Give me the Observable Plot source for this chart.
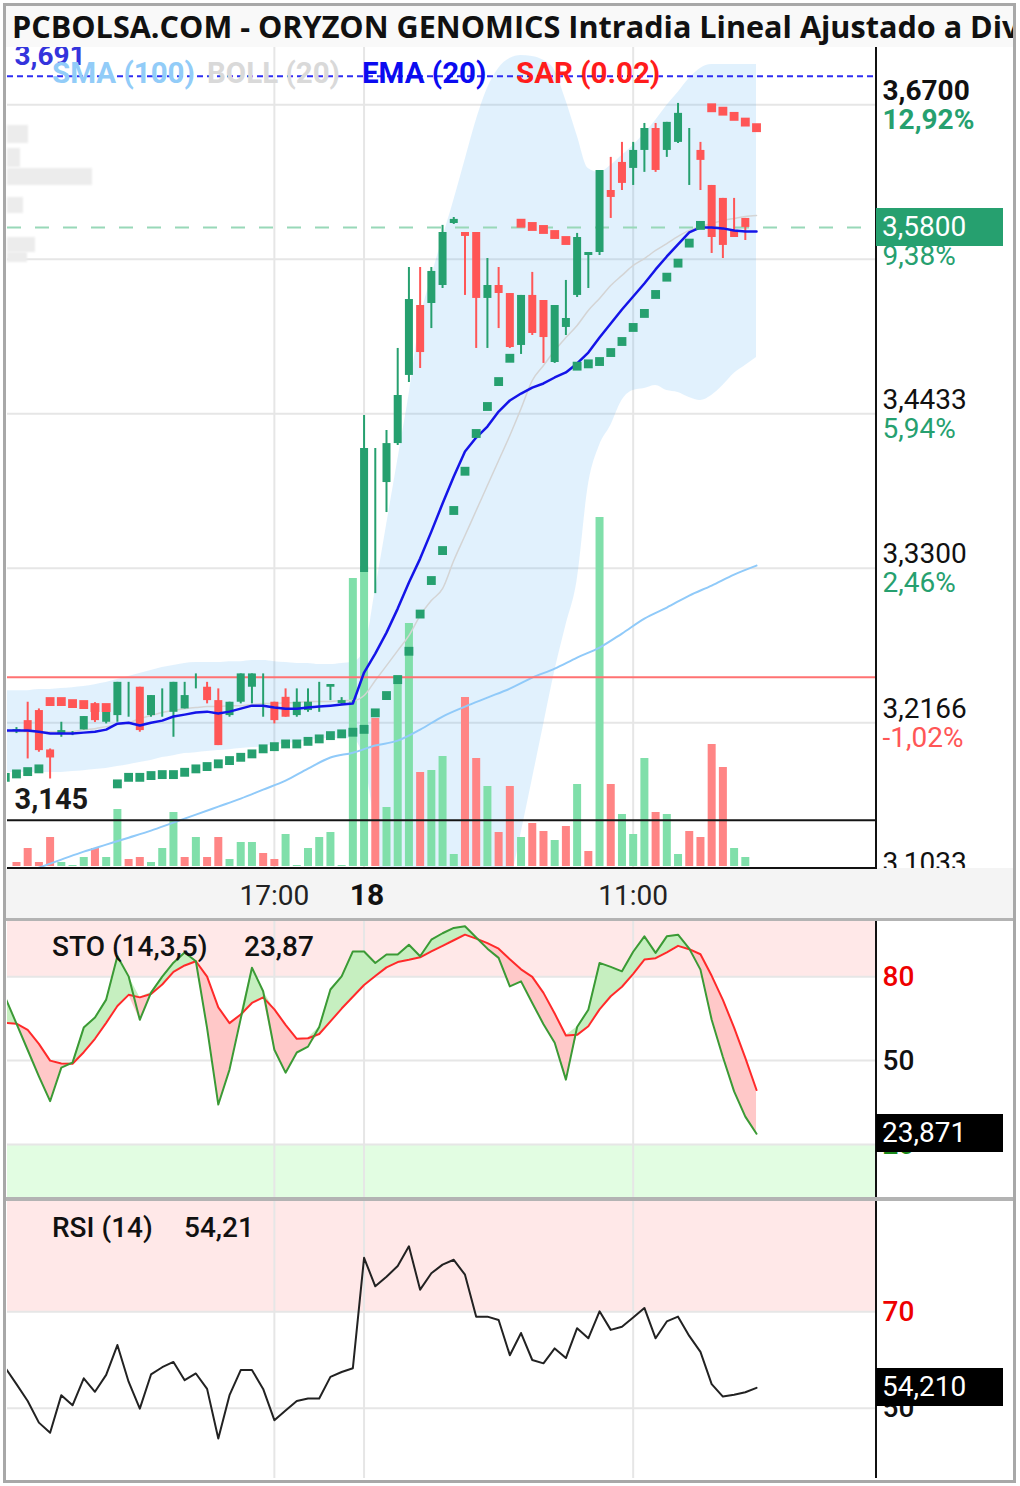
<!DOCTYPE html>
<html><head><meta charset="utf-8">
<script src="https://cdn.jsdelivr.net/npm/d3@7"></script>
<script src="https://cdn.jsdelivr.net/npm/@observablehq/plot@0.6"></script>
<style>
body{margin:0;background:#fff;}
#root{position:relative;width:1020px;height:1486px;overflow:hidden;background:#fff;font-family:Roboto,"Noto Sans",sans-serif;}
.a{position:absolute;}
</style></head><body><div id="root"></div><script>
// ---------- DATA ----------
const open = [3.2108,3.2181,3.2255,3.1966,3.2079,3.2086,3.2113,3.2291,3.2169,3.2218,3.2401,3.2426,3.2218,3.2328,3.2242,3.2267,3.2475,3.2426,3.2328,3.2218,3.2316,3.2426,3.2401,3.2316,3.2352,3.2218,3.2255,3.2328,3.2426,3.2306,3.2313,
3.3268,3.4148,3.3928,3.4214,3.4714,3.5227,3.5242,3.5374,3.5829,3.5763,3.5763,3.5279,3.5374,3.5315,3.4934,3.5301,3.5264,3.4809,3.5066,3.5301,3.5594,3.5616,3.6071,3.6277,3.6233,3.6365,3.6526,3.6365,3.6424,3.6475,3.6365,3.6108,3.6013,3.5778,3.5866];
const close = [3.2115,3.2096,3.1961,3.1907,3.2108,3.2086,3.2211,3.2181,3.2242,3.2462,3.2401,3.2108,3.2365,3.2328,3.2462,3.2365,3.2475,3.2328,3.1998,3.2316,3.2524,3.2524,3.2401,3.2181,3.2206,3.2316,3.2316,3.2328,3.2446,3.2328,3.2313,
3.4178,3.4148,3.4214,3.4567,3.5271,3.4882,3.5477,3.5763,3.5859,3.5734,3.5279,3.5374,3.5315,3.4919,3.5301,3.5022,3.4992,3.5227,3.5132,3.5726,3.5616,3.6218,3.6020,3.6123,3.6365,3.6526,3.6218,3.6571,3.6637,3.6475,3.6292,3.5726,3.5668,3.5726,3.5800];
const high = [3.2130,3.2316,3.2267,3.1973,3.2169,3.2101,3.2211,3.2313,3.2242,3.2462,3.2462,3.2426,3.2365,3.2414,3.2462,3.2462,3.2524,3.2462,3.2414,3.2316,3.2524,3.2524,3.2524,3.2316,3.2414,3.2414,3.2414,3.2462,3.2446,3.2350,3.2328,
3.4420,3.4178,3.4310,3.4912,3.5506,3.5506,3.5506,3.5815,3.5873,3.5763,3.5763,3.5572,3.5506,3.5315,3.5301,3.5470,3.5264,3.5227,3.5411,3.5756,3.5616,3.6218,3.6314,3.6424,3.6424,3.6563,3.6563,3.6571,3.6710,3.6526,3.6424,3.6108,3.6013,3.6013,3.5866];
const low = [3.2086,3.1900,3.1949,3.1753,3.2059,3.2071,3.2113,3.2167,3.2157,3.2169,3.2206,3.2096,3.2206,3.2206,3.2059,3.2267,3.2414,3.2304,3.1998,3.2206,3.2304,3.2304,3.2206,3.2157,3.2206,3.2206,3.2242,3.2242,3.2328,3.2291,3.2299,
3.3268,3.3113,3.3708,3.4200,3.4662,3.4765,3.5058,3.5352,3.5822,3.5301,3.4912,3.4912,3.5058,3.4912,3.4868,3.5007,3.4802,3.4802,3.5007,3.5286,3.5352,3.5594,3.5866,3.6071,3.6108,3.6204,3.6204,3.6314,3.6416,3.6108,3.6071,3.5609,3.5572,3.5726,3.5704];
// volume (thousands of shares) and colour vs previous close
const volume = [4,18,4,29,4,1,9,18,9,57,7,9,4,18,54,9,29,9,29,7,24,24,13,7,32,1,18,29,34,1,288,
300,148,59,191,243,94,96,110,12,169,108,80,34,80,29,43,35,26,40,82,15,349,82,52,32,108,54,52,12,35,29,122,99,18,9];
const volDir = "rrrrgggrggrrgggrgrrgggrrggggggg" + "grgggrgggrrgrrgrrgrgrgrgggrggrrrrgg";

// indicators for positions -1..66
const ema = [3.2108,3.2108,3.2108,3.2100,3.2086,3.2086,3.2086,3.2093,3.2100,3.2115,3.2159,3.2166,3.2145,3.2166,3.2181,3.2211,3.2225,3.2240,3.2247,3.2233,3.2247,3.2269,3.2291,3.2291,3.2277,3.2269,3.2269,3.2277,3.2284,3.2291,3.2299,3.2306,
3.2534,3.2673,3.2827,3.3003,3.3194,3.3370,3.3568,3.3774,3.3972,3.4156,3.4258,3.4339,3.4449,3.4530,3.4581,3.4625,3.4655,3.4699,3.4736,3.4802,3.4882,3.4992,3.5095,3.5198,3.5293,3.5389,3.5492,3.5587,3.5675,3.5763,3.5800,3.5800,3.5793,3.5778,3.5771,3.5771];
const bollUp = [3.2401,3.2401,3.2401,3.2409,3.2409,3.2416,3.2423,3.2431,3.2445,3.2460,3.2482,3.2504,3.2526,3.2548,3.2570,3.2585,3.2600,3.2607,3.2607,3.2607,3.2614,3.2614,3.2622,3.2622,3.2614,3.2607,3.2600,3.2600,3.2592,3.2592,3.2600,3.2607,
3.2695,3.3135,3.3613,3.4090,3.4567,3.5117,3.5433,3.5719,3.5998,3.6292,3.6585,3.6820,3.6967,3.7040,3.7062,3.7055,3.7026,3.6952,3.6732,3.6475,3.6233,3.6204,3.6255,3.6328,3.6402,3.6490,3.6585,3.6695,3.6791,3.6893,3.6967,3.6996,3.6996,3.6996,3.6996,3.6996];
const bollMid = [3.2100,3.2100,3.2100,3.2100,3.2100,3.2100,3.2100,3.2115,3.2122,3.2137,3.2152,3.2166,3.2196,3.2218,3.2240,3.2255,3.2269,3.2277,3.2284,3.2284,3.2291,3.2291,3.2299,3.2306,3.2306,3.2313,3.2313,3.2321,3.2321,3.2321,3.2328,3.2328,
3.2365,3.2475,3.2585,3.2695,3.2805,3.2952,3.3062,3.3150,3.3356,3.3539,3.3723,3.3906,3.4090,3.4273,3.4471,3.4677,3.4787,3.4897,3.4992,3.5081,3.5191,3.5279,3.5374,3.5448,3.5521,3.5572,3.5631,3.5682,3.5734,3.5778,3.5807,3.5829,3.5851,3.5866,3.5881,3.5888];
const bollLo = [3.1800,3.1800,3.1800,3.1800,3.1800,3.1800,3.1807,3.1814,3.1822,3.1829,3.1844,3.1858,3.1873,3.1888,3.1910,3.1924,3.1939,3.1946,3.1954,3.1961,3.1968,3.1976,3.1983,3.1990,3.2005,3.2012,3.2020,3.2034,3.2042,3.2049,3.2049,3.2049,
3.1888,3.1374,3.0566,3.0199,2.9906,2.9686,2.9612,2.9612,2.9686,2.9832,3.0053,3.0273,3.0566,3.0955,3.1352,3.1748,3.2145,3.2541,3.2879,3.3209,3.3906,3.4200,3.4347,3.4530,3.4603,3.4618,3.4640,3.4603,3.4589,3.4552,3.4530,3.4567,3.4640,3.4728,3.4787,3.4846];
const sar = [3.1765,3.1790,3.1807,3.1827,3.2321,3.2321,3.2306,3.2299,3.2277,3.2277,3.1717,3.1765,3.1765,3.1778,3.1785,3.1785,3.1802,3.1827,3.1844,3.1864,3.1888,3.1912,3.1937,3.1974,3.1990,3.2010,3.2010,3.2029,3.2047,3.2071,3.2084,3.2096,
3.2117,3.2238,3.2365,3.2482,3.2690,3.2963,3.3209,3.3429,3.3723,3.4011,3.4288,3.4486,3.4669,3.4840,3.5831,3.5807,3.5785,3.5748,3.5704,3.4782,3.4799,3.4816,3.4882,3.4963,3.5066,3.5169,3.5308,3.5435,3.5538,3.5685,3.5815,3.6678,3.6653,3.6615,3.6573,3.6532];
const sarSide = "gggg" + "rrrrrr" + "g".repeat(36) + "rrrrr" + "g".repeat(12) + "rrrrr";
const stoK = [72.6,63.2,53.8,44.4,35.5,47.5,49.3,61.8,65.4,71.8,87.3,80.1,64.6,74.3,80,85,88.6,85.5,61.6,34.3,46.8,65,83.2,74.8,53.9,45.7,52.9,55,62,75.4,80.1,89,
89,84.9,87.9,87.9,91.4,87.3,93.2,95.5,97.4,98,94,90,86.7,76.5,78.3,70.6,63,56.4,43.2,62,68.2,84.9,83.5,81.9,88.9,94.4,88.5,94.4,95,90,82.5,64.6,51.3,39,30,23.87];
const stoD = [63.5,63.2,61,56,50,49,48.9,53,57.8,63.5,69.5,73.5,72.6,73.8,77.2,81.7,84,85.5,80,69,63.4,66.5,70.6,72.6,68.3,62.8,57.8,58,59.5,64,68.6,72.8,
77,80.2,83.3,85.2,86,86.9,89,91,93,95,93.6,92,90,86.2,82.6,79.9,74.2,66.8,59,59.2,62.3,68.3,73,76.4,81,86.1,86.6,88.7,91,89.8,88,80.3,71.7,61.8,51,39.5];
const rsi = [58.4,55,51.5,47,44.9,52.7,50.6,56.2,53.4,56.9,63.1,55.5,49.9,57,58.5,59.6,55.8,57.2,54,43.7,52.7,57.9,57.9,54,47.5,49.5,51.5,52,52,56.5,57.5,58.3,
81.2,75.3,77.3,79.5,83.6,74.6,78,79.8,80.8,77.7,69,69,68.3,61,65.6,60,59.3,62.4,60.4,66.6,64.5,70.1,66.25,66.9,68.8,70.8,64.5,68,69,65,61.7,55,52.4,52.8,53.3,54.21];
const smaIdx = [0,1,2,4,6,8,10,12,14,16,18,20,22,24,26,28,30,32,34,36,38,40,42,44,46,48,50,52,54,56,58,60,62,64,66];
const smaVal = [3.1036,3.1073,3.1102,3.1161,3.1220,3.1271,3.1322,3.1374,3.1433,3.1491,3.1550,3.1609,3.1675,3.1741,3.1829,3.1910,3.1946,3.1998,3.2034,3.2115,3.2211,3.2284,3.2350,3.2416,3.2497,3.2563,3.2644,3.2717,3.2820,3.2930,3.3011,3.3099,3.3172,3.3253,3.3319];

const tickIdx = [23, 31, 55];
const tickLab = ["17:00", "18", "11:00"];
const tickBold = [false, true, false];

const axisVals = [3.6700, 3.5567, 3.4433, 3.3300, 3.2166, 3.1033];
const axisPrice = ["3,6700", "", "3,4433", "3,3300", "3,2166", "3,1033"];
const axisPct = ["12,92%", "9,38%", "5,94%", "2,46%", "-1,02%", "-4,51%"];
const prevClose = 3.25, supportLvl = 3.145, topLvl = 3.691, lastPrice = 3.58;
const stoLevels = [80, 50, 20], stoLvlLab = ["80", "50", "20"];
const rsiLevels = [70, 50], rsiLvlLab = ["70", "50"];
const stoLast = 23.871, rsiLast = 54.210;

// ---------- SETUP ----------
const root = document.getElementById("root");
const G = "#26a06f", R = "#ff5656", VG = "#80dfaa", VR = "#ff8585";
const xDomain = [-0.8, 76.7];
const candles = d3.range(open.length).map(i => ({i, o: open[i], c: close[i], h: high[i], l: low[i], v: volume[i], vd: volDir[i]}));
const ind = d3.range(-1, 67).map((i, k) => ({i, ema: ema[k], up: bollUp[k], mid: bollMid[k], lo: bollLo[k], sar: sar[k], side: sarSide[k], K: stoK[k], D: stoD[k], rsi: rsi[k]}));
const sma = smaIdx.map((i, k) => ({i, v: smaVal[k]}));
const ticks = tickIdx.map((i, k) => ({i, t: tickLab[k], b: tickBold[k]}));
const axisRows = axisVals.map((v, k) => ({v, p: axisPrice[k], q: axisPct[k], k}));

function base(h, yDomain, marks, mb = 0) {
  return Plot.plot({
    width: 1020, height: h, marginLeft: 7, marginRight: 144, marginTop: 0, marginBottom: mb,
    x: {domain: xDomain, axis: null}, y: {domain: yDomain, axis: null},
    style: {background: "transparent", overflow: "hidden", fontFamily: "Roboto"},
    marks
  });
}
function place(node, top) { node.style.position = "absolute"; node.style.left = "0px"; node.style.top = top + "px"; root.appendChild(node); return node; }
function div(css, html = "") { const d = document.createElement("div"); d.className = "a"; d.style.cssText = css; d.innerHTML = html; root.appendChild(d); return d; }

// ---------- MAIN PANEL ----------
const MT = 45, MH = 823, yMain = [3.1096, 3.7135];
const grid = "#e6e6e6";
place(base(MH, yMain, [
  Plot.ruleY(axisVals, {stroke: grid, strokeWidth: 2}),
  Plot.ruleX(tickIdx, {stroke: grid, strokeWidth: 2}),
  Plot.areaY(ind, {x: "i", y1: "lo", y2: "up", fill: "rgb(66,165,245)", fillOpacity: 0.16, curve: "monotone-x", clip: true})
]), MT);
place(base(MH, [0, 821], [
  Plot.ruleX(candles, {x: "i", y1: 0, y2: "v", stroke: d => d.vd === "g" ? VG : VR, strokeWidth: 8})
], 2), MT);
const mainFg = place(base(MH, yMain, [
  Plot.line(ind, {x: "i", y: "mid", stroke: "#d4d4d4", strokeWidth: 1.5, curve: "monotone-x", clip: true}),
  Plot.line(sma, {x: "i", y: "v", stroke: "#90caf9", strokeWidth: 2, curve: "monotone-x", clip: true}),
  Plot.ruleY([prevClose], {stroke: "#ff7272", strokeWidth: 2}),
  Plot.ruleY([supportLvl], {stroke: "#141414", strokeWidth: 2}),
  Plot.ruleY([lastPrice], {stroke: "#98d8b8", strokeWidth: 2, strokeDasharray: "14,14"}),
  Plot.ruleX(candles, {x: "i", y1: "l", y2: "h", stroke: d => d.c >= d.o ? G : R, strokeWidth: 2}),
  Plot.ruleX(candles, {x: "i", y1: "o", y2: "c", stroke: d => d.c >= d.o ? G : R, strokeWidth: 8}),
  Plot.line(ind, {x: "i", y: "ema", stroke: "#1414e8", strokeWidth: 2.5, clip: true}),
  Plot.ruleY([topLvl], {stroke: "#2e2ef2", strokeWidth: 2, strokeDasharray: "6,4"}),
  Plot.dot(ind, {x: "i", y: "sar", symbol: "square", r: 5, fill: d => d.side === "g" ? G : R, clip: true}),
  Plot.text([topLvl], {y: d => d, text: d => String(d).replace(".", ","), frameAnchor: "left", dx: 7, dy: -20, textAnchor: "start", fontSize: 28, fontWeight: "bold", fill: "#3434dc"}),
  Plot.text([supportLvl], {y: d => d, text: d => String(d).replace(".", ","), frameAnchor: "left", dx: 7, dy: -21, textAnchor: "start", fontSize: 29, fontWeight: "bold", fill: "#1a1a1a"}),
  Plot.text(axisRows.filter(d => d.p && d.k === 0), {y: "v", text: "p", frameAnchor: "right", dx: 6, dy: -14, textAnchor: "start", fontSize: 28, fontWeight: "bold", fill: "#111"}),
  Plot.text(axisRows.filter(d => d.p && d.k > 0), {y: "v", text: "p", frameAnchor: "right", dx: 6, dy: -14, textAnchor: "start", fontSize: 28, fill: "#111"}),
  Plot.text(axisRows.filter(d => d.p && d.k === 0), {y: "v", text: "q", frameAnchor: "right", dx: 6, dy: 15, textAnchor: "start", fontSize: 28, fontWeight: "bold", fill: G}),
  Plot.text(axisRows.filter(d => d.p && d.k > 0), {y: "v", text: "q", frameAnchor: "right", dx: 6, dy: 15, textAnchor: "start", fontSize: 28, fill: d => d.q.startsWith("-") ? R : G}),
  Plot.text(axisRows.filter(d => !d.p), {y: "v", text: "q", frameAnchor: "right", dx: 6, dy: -3, textAnchor: "start", fontSize: 28, fill: G})
]), MT);

// faint blurred marks at left
[[7,125,21,18],[7,148,13,19],[7,168,85,17],[7,197,16,16],[7,237,28,15],[7,252,20,10]].forEach(r =>
  div(`left:${r[0]}px;top:${r[1]}px;width:${r[2]}px;height:${r[3]}px;background:#ececec;filter:blur(1.2px);`));

// ---------- TIME STRIP ----------
div("left:6px;top:868px;width:1007px;height:50px;background:#f4f4f4;");
div("left:7px;top:867px;width:870px;height:2px;background:#111;");
place(base(50, [0, 1], [
  Plot.text(ticks.filter(d => !d.b), {x: "i", text: "t", fontSize: 28, fill: "#222", dy: 3}),
  Plot.text(ticks.filter(d => d.b), {x: "i", text: "t", fontSize: 30, fontWeight: "bold", fill: "#111", dx: 3, dy: 2})
]), 868);
div("left:6px;top:918px;width:1007px;height:3px;background:#b3b3b3;");

// ---------- STO PANEL ----------
const ST = 921, SH = 276, ySto = [1.1, 99.7];
const stoPos = ind.map(d => ({i: d.i, a: d.D, b: Math.max(d.K, d.D)}));
const stoNeg = ind.map(d => ({i: d.i, a: Math.min(d.K, d.D), b: d.D}));
const stoPlot = place(base(SH, ySto, [
  Plot.rect([0], {x1: xDomain[0], x2: xDomain[1], y1: stoLevels[0], y2: ySto[1], fill: "#ffe8e8"}),
  Plot.rect([0], {x1: xDomain[0], x2: xDomain[1], y1: ySto[0], y2: stoLevels[2], fill: "#e2fde2"}),
  Plot.ruleY(stoLevels, {stroke: grid, strokeWidth: 2}),
  Plot.ruleX(tickIdx, {stroke: grid, strokeWidth: 2}),
  Plot.areaY(stoPos, {x: "i", y1: "a", y2: "b", fill: "#c6efc0", clip: true}),
  Plot.areaY(stoNeg, {x: "i", y1: "a", y2: "b", fill: "#ffc8c8", clip: true}),
  Plot.line(ind, {x: "i", y: "D", stroke: "#ff2a2a", strokeWidth: 2, clip: true}),
  Plot.line(ind, {x: "i", y: "K", stroke: "#3b9a35", strokeWidth: 2, clip: true}),
  Plot.text(stoLevels.map((v, k) => ({v, t: stoLvlLab[k], k})), {y: "v", text: "t", frameAnchor: "right", dx: 6, textAnchor: "start", fontSize: 28, fontWeight: 500, fill: d => d.k === 0 ? "#ee0000" : d.k === 1 ? "#111" : "#1a8a1a"})
]), ST);
div("left:6px;top:1197px;width:1007px;height:4px;background:#b3b3b3;");

// ---------- RSI PANEL ----------
const RT = 1201, RH = 277, yRsi = [35.4, 92.9];
const rsiPlot = place(base(RH, yRsi, [
  Plot.rect([0], {x1: xDomain[0], x2: xDomain[1], y1: rsiLevels[0], y2: yRsi[1], fill: "#ffe8e8"}),
  Plot.ruleY(rsiLevels, {stroke: grid, strokeWidth: 2}),
  Plot.ruleX(tickIdx, {stroke: grid, strokeWidth: 2}),
  Plot.line(ind, {x: "i", y: "rsi", stroke: "#222", strokeWidth: 2, clip: true}),
  Plot.text(rsiLevels.map((v, k) => ({v, t: rsiLvlLab[k], k})), {y: "v", text: "t", frameAnchor: "right", dx: 6, textAnchor: "start", fontSize: 28, fontWeight: 500, fill: d => d.k === 0 ? "#ee0000" : "#111"})
]), RT);

// right axis lines
div("left:875px;top:45px;width:2px;height:824px;background:#111;");
div(`left:875px;top:${ST}px;width:2px;height:${SH}px;background:#111;`);
div(`left:875px;top:${RT}px;width:2px;height:${RH}px;background:#111;`);

// value boxes positioned with the plots' own scales
const fmt = (v, n) => v.toFixed(n).replace(".", ",");
function box(top, bg, text) {
  div(`left:876px;top:${top - 19}px;width:127px;height:38px;background:${bg};color:#fff;font-size:28px;line-height:38px;padding-left:6px;box-sizing:border-box;`, text);
}
box(MT + mainFg.scale("y").apply(lastPrice), G, fmt(lastPrice, 4));
box(ST + stoPlot.scale("y").apply(stoLast), "#000", fmt(stoLast, 3));
box(RT + rsiPlot.scale("y").apply(rsiLast), "#000", fmt(rsiLast, 3));

// panel titles
const tcss = "font-size:28px;font-weight:500;color:#111;height:34px;line-height:34px;white-space:nowrap;";
div(`left:52px;top:930px;${tcss}`, "STO (14,3,5)");
div(`left:244px;top:930px;${tcss}`, fmt(stoK[stoK.length - 1], 2));
div(`left:52px;top:1211px;${tcss}`, "RSI (14)");
div(`left:184px;top:1211px;${tcss}`, fmt(rsi[rsi.length - 1], 2));

// legend
const lcss = "top:56px;height:34px;line-height:34px;font-size:29.5px;font-weight:bold;white-space:nowrap;";
div(`left:52px;${lcss}color:#92ccf8;`, "SMA (100)");
div(`left:207px;${lcss}color:#d9d9d9;`, "BOLL (20)");
div(`left:362px;${lcss}color:#0b0bf0;`, "EMA (20)");
div(`left:516px;${lcss}color:#ff1c1c;`, "SAR (0.02)");

// title
div("left:6px;top:6px;width:1007px;height:41px;background:#f9f9f9;font-family:'Open Sans','Noto Sans',sans-serif;font-weight:700;font-size:30.6px;line-height:41px;padding-left:6px;box-sizing:border-box;white-space:nowrap;overflow:hidden;color:#111;",
  "PCBOLSA.COM - ORYZON GENOMICS Intradia Lineal Ajustado a Dividendos");

// outer frame
div("left:3px;top:3px;width:1013px;height:1480px;border:3px solid #a8a8a8;box-sizing:border-box;pointer-events:none;");
</script></body></html>
